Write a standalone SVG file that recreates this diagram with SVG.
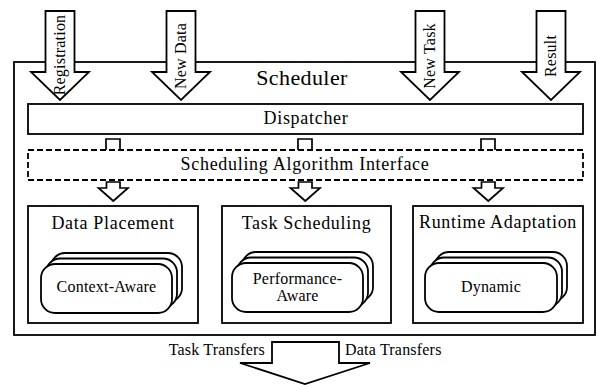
<svg xmlns="http://www.w3.org/2000/svg" width="598" height="385" viewBox="0 0 598 385">
<style>
.s{fill:#fff;stroke:#000;stroke-width:1.8;stroke-linejoin:miter}
.d{fill:#fff;stroke:#000;stroke-width:1.8;stroke-dasharray:6,3}
.t{fill:#000;text-anchor:middle}
.big{font-size:22px;letter-spacing:0.4px}
.m{font-size:18px;letter-spacing:0.7px}
.sm{font-size:16px;letter-spacing:0.2px}
.rr{fill:#fff;stroke:#000;stroke-width:1.8}
</style>
<rect width="598" height="385" fill="#fff"/>
<g id="scheduler">
<rect class="s" x="14" y="62" width="581" height="273"/>
<text class="t big" font-family="Liberation Serif" x="302" y="85">Scheduler</text>
</g>
<g id="inputs">
<g id="registration">
<polygon class="s" points="45.5,11 74.5,11 74.5,72 89,72 60,100 31,72 45.5,72"/>
<text class="t sm" font-family="Liberation Serif" transform="translate(65,55) rotate(-90)">Registration</text>
</g>
<g id="new-data">
<polygon class="s" points="166.5,11 195.5,11 195.5,72 210,72 181,100 152,72 166.5,72"/>
<text class="t sm" font-family="Liberation Serif" transform="translate(186,56) rotate(-90)">New Data</text>
</g>
<g id="new-task">
<polygon class="s" points="415.5,11 444.5,11 444.5,72 459,72 430,100 401,72 415.5,72"/>
<text class="t sm" font-family="Liberation Serif" transform="translate(435,56) rotate(-90)">New Task</text>
</g>
<g id="result">
<polygon class="s" points="536.5,11 565.5,11 565.5,72 580,72 551,100 522,72 536.5,72"/>
<text class="t sm" font-family="Liberation Serif" transform="translate(556,56) rotate(-90)">Result</text>
</g>
</g>
<g id="dispatcher">
<rect class="s" x="28" y="104" width="555" height="30"/>
<text class="t m" font-family="Liberation Serif" x="306" y="124">Dispatcher</text>
</g>
<g id="connectors" fill="#fff" stroke="#000" stroke-width="1.7">
<polyline points="106,150 106,139 120,139 120,150"/>
<polyline points="298,150 298,139 312,139 312,150"/>
<polyline points="481,150 481,139 495,139 495,150"/>
<polygon points="106.5,182 120,182 120,188 128,188 113.3,201 98.5,188 106.5,188"/>
<polygon points="298.5,182 312,182 312,188 320,188 305.3,201 290.5,188 298.5,188"/>
<polygon points="481.5,182 495,182 495,188 503,188 488.3,201 473.5,188 481.5,188"/>
</g>
<g id="sai">
<rect class="d" x="28" y="150" width="555" height="30"/>
<text class="t m" font-family="Liberation Serif" x="305" y="170">Scheduling Algorithm Interface</text>
</g>
<g id="data-placement">
<rect class="s" x="28" y="206" width="170" height="117"/>
<text class="t m" font-family="Liberation Serif" x="113" y="229">Data Placement</text>
<rect class="rr" x="51" y="253" width="131" height="49" rx="14"/>
<rect class="rr" x="46" y="258.5" width="131" height="49" rx="14"/>
<rect class="rr" x="41" y="264" width="131" height="49" rx="14"/>
<text class="t sm" font-family="Liberation Serif" x="106.5" y="292">Context-Aware</text>
</g>
<g id="task-scheduling">
<rect class="s" x="222" y="206" width="169" height="117"/>
<text class="t m" font-family="Liberation Serif" x="306.5" y="229">Task Scheduling</text>
<rect class="rr" x="242" y="252" width="131" height="49" rx="14"/>
<rect class="rr" x="237" y="257.5" width="131" height="49" rx="14"/>
<rect class="rr" x="232" y="263" width="131" height="49" rx="14"/>
<text class="t sm" font-family="Liberation Serif" x="297.5" y="284">Performance-</text>
<text class="t sm" font-family="Liberation Serif" x="297.5" y="301">Aware</text>
</g>
<g id="runtime-adaptation">
<rect class="s" x="413" y="206" width="170" height="117"/>
<text class="t m" font-family="Liberation Serif" x="498" y="228">Runtime Adaptation</text>
<rect class="rr" x="435" y="252" width="132" height="49" rx="14"/>
<rect class="rr" x="430" y="257.5" width="132" height="49" rx="14"/>
<rect class="rr" x="425" y="263" width="132" height="49" rx="14"/>
<text class="t sm" font-family="Liberation Serif" x="491" y="292">Dynamic</text>
</g>
<g id="output">
<polygon class="s" points="272,342 339,342 339,363 370,363 305,384 240,363 272,363"/>
<text class="t sm" font-family="Liberation Serif" x="265" y="355" style="text-anchor:end">Task Transfers</text>
<text class="t sm" font-family="Liberation Serif" x="345" y="355" style="text-anchor:start">Data Transfers</text>
</g>
</svg>
